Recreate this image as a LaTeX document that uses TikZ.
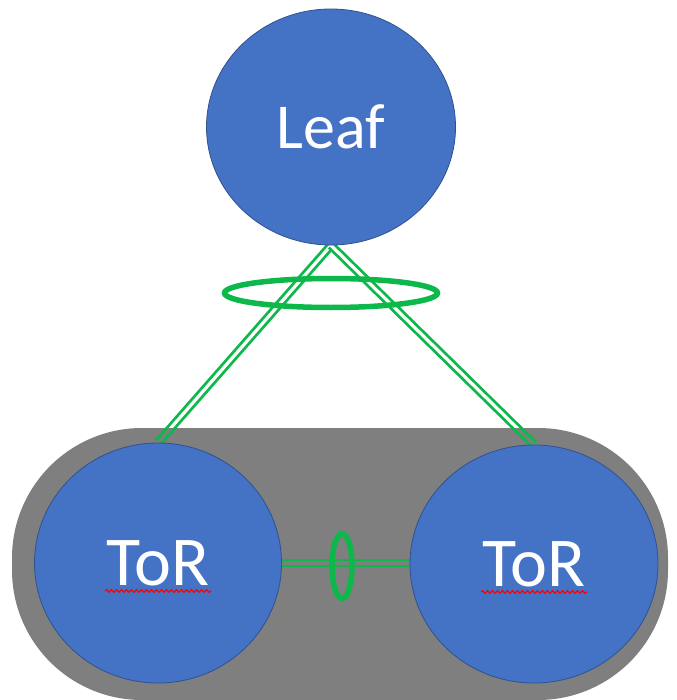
\documentclass[tikz,border=0pt]{standalone}
\usepackage{fontspec}
\newfontfamily\calibri{Carlito}
\usetikzlibrary{shapes.geometric,backgrounds,decorations.pathmorphing}
\definecolor{nodeblue}{HTML}{4472C4}
\definecolor{rimblue}{HTML}{2F528F}
\definecolor{rackgray}{HTML}{7F7F7F}
\definecolor{lagreen}{HTML}{0DB84A}

\begin{document}
\begin{tikzpicture}[x=1pt,y=-1pt,
  sw/.style={ellipse, fill=nodeblue, draw=rimblue, line width=0.8pt, text=white},
  link/.style={draw=lagreen, line width=2.8pt, double distance=3.2pt, double=white},
  lag/.style={ellipse, draw=lagreen, line width=5.5pt, inner sep=0pt},
  spell/.style={draw=red, line width=1.2pt, decorate,
    decoration={snake, amplitude=1.3pt, segment length=5pt}}]
\useasboundingbox (0,0) rectangle (676,700);

% switches
\node[sw, minimum width=249pt, minimum height=236pt,
  font=\calibri\fontsize{64}{68}\selectfont] (leaf) at (331,127) {Leaf};
\node[sw, minimum width=247pt, minimum height=240pt,
  font=\calibri\fontsize{70}{74}\selectfont] (torL) at (158,563) {ToR};
\node[sw, minimum width=248pt, minimum height=238pt,
  font=\calibri\fontsize{70}{74}\selectfont] (torR) at (534,564) {ToR};

% LAG markers
\node[lag, minimum width=213pt, minimum height=29pt] (lagUp) at (331,293) {};
\node[lag, minimum width=20pt, minimum height=65pt] (lagDn) at (342,566) {};

% spell-check marks
\draw[spell] ([shift={(-53,28)}]torL.center) -- ([shift={(53,28)}]torL.center);
\draw[spell] ([shift={(-53,28)}]torR.center) -- ([shift={(53,28)}]torR.center);

\begin{scope}[on background layer]
  \fill[rackgray, rounded corners=130pt] (12,428) rectangle (668,700);
  \draw[link] (leaf.south) -- (torL.north);
  \draw[link] (leaf.south) -- (torR.north);
  \begin{scope}
    \clip[rounded corners=130pt] (12,428) rectangle (668,700);
    \draw[link, double=rackgray] (leaf.south) -- (torL.north);
    \draw[link, double=rackgray] (leaf.south) -- (torR.north);
  \end{scope}
  \draw[link, double=rackgray] (torL.east) -- (torL.east -| torR.west);
\end{scope}
\end{tikzpicture}
\end{document}
